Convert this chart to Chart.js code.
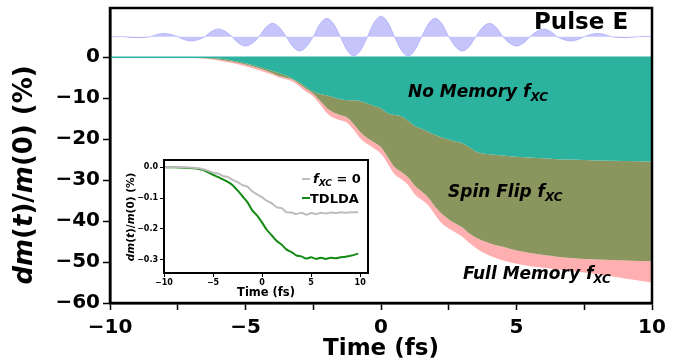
<!DOCTYPE html>
<html>
<head>
<meta charset="utf-8">
<script src="https://cdn.jsdelivr.net/npm/chart.js@4.4.1/dist/chart.umd.min.js"></script>
<style>
  body { margin: 0; background: #fff; }
  #wrap { position: relative; width: 694px; height: 363px; }
  #inset { position: absolute; left: 116px; top: 154px; }
</style>
</head>
<body>
<div id="wrap">
  <canvas id="main" width="694" height="363"></canvas>
  <canvas id="inset" width="260" height="146"></canvas>
</div>
<script>
// --- dados ---
// pulso (unidades arbitrarias, desenhado em torno de pulseBase)
const pulseBase = 5;
const tPulse = [-10, -9.75, -9.5, -9.25, -9, -8.75, -8.5, -8.25, -8, -7.75, -7.5, -7.25, -7, -6.75, -6.5, -6.25,
  -6, -5.75, -5.5, -5.25, -5, -4.75, -4.5, -4.25, -4, -3.75, -3.5, -3.25, -3, -2.75, -2.5, -2.25,
  -2, -1.75, -1.5, -1.25, -1, -0.75, -0.5, -0.25, 0, 0.25, 0.5, 0.75, 1, 1.25, 1.5, 1.75,
  2, 2.25, 2.5, 2.75, 3, 3.25, 3.5, 3.75, 4, 4.25, 4.5, 4.75, 5, 5.25, 5.5, 5.75,
  6, 6.25, 6.5, 6.75, 7, 7.25, 7.5, 7.75, 8, 8.25, 8.5, 8.75, 9, 9.25, 9.5, 9.75, 10];
const ePulse = [5.0, 5.0, 5.0, 4.82, 4.75, 4.82, 5.0, 5.56, 5.8, 5.56, 5.0, 4.26, 3.94, 4.26, 5.0, 6.31,
  6.87, 6.31, 5.0, 3.39, 2.7, 3.39, 5.0, 7.28, 8.25, 7.28, 5.0, 2.55, 1.5, 2.55, 5.0, 8.13,
  9.47, 8.13, 5.0, 1.71, 0.3, 1.71, 5.0, 8.5, 10.0, 8.5, 5.0, 1.71, 0.3, 1.71, 5.0, 8.13,
  9.47, 8.13, 5.0, 2.55, 1.5, 2.55, 5.0, 7.28, 8.25, 7.28, 5.0, 3.39, 2.7, 3.39, 5.0, 6.31,
  6.87, 6.31, 5.0, 4.26, 3.94, 4.26, 5.0, 5.56, 5.8, 5.56, 5.0, 4.82, 4.75, 4.85, 5.0, 5.08, 5.05];

// faixas: dm(t)/m(0) (%)
const tBand = [-10, -9, -8, -7, -6.5, -6, -5.5, -5, -4.5,
  -4, -3.75, -3.5, -3.25, -3, -2.75, -2.5, -2.25, -2, -1.75, -1.5, -1.25, -1, -0.75, -0.5, -0.25,
  0, 0.25, 0.5, 0.75, 1, 1.25, 1.5, 1.75, 2, 2.25, 2.5, 2.75, 3, 3.25, 3.5, 3.75, 4, 4.5, 5,
  5.5, 6, 6.5, 7, 8, 9, 10];
const noMemory = [0, 0, -0.02, -0.08, -0.15, -0.35, -0.8, -1.5, -2.4,
  -3.4, -3.9, -4.5, -5.3, -6.2, -7.4, -8.4, -9.0, -9.3, -9.8, -10.3, -10.5, -10.5, -10.7, -11.3, -11.9,
  -12.5, -13.7, -14.1, -14.4, -15.5, -16.8, -17.5, -18.2, -19.0, -19.6, -20.1, -20.6, -21.0, -21.9, -23.0, -23.5, -23.7, -24.0, -24.3,
  -24.5, -24.7, -24.9, -25.0, -25.2, -25.35, -25.5];
const spinFlip = [0, 0, -0.03, -0.12, -0.25, -0.55, -1.05, -1.8, -2.7,
  -3.9, -4.6, -5.0, -5.5, -6.6, -7.8, -8.9, -10.6, -12.4, -13.5, -14.1, -14.7, -16.4, -18.4, -19.8, -20.8,
  -22.0, -24.4, -26.8, -28.0, -29.3, -31.4, -32.8, -34.3, -36.5, -38.3, -39.6, -40.6, -41.6, -43.0, -44.0, -44.8, -45.4, -46.3, -47.2,
  -47.8, -48.3, -48.7, -49.0, -49.4, -49.6, -49.8];
const fullMemory = [0, 0, -0.05, -0.2, -0.4, -0.8, -1.4, -2.2, -3.2,
  -4.3, -5.0, -5.4, -6.0, -7.2, -8.5, -9.6, -11.5, -13.6, -14.8, -15.4, -16.0, -17.8, -19.9, -21.2, -22.3,
  -23.6, -26.0, -28.6, -29.8, -31.2, -33.5, -34.8, -36.2, -38.5, -40.6, -41.8, -42.8, -43.8, -45.3, -46.6, -47.6, -48.4, -49.6, -50.4,
  -51.0, -51.4, -51.8, -52.2, -53.0, -54.0, -55.0];

const xTicks = [-10, -7.5, -5, -2.5, 0, 2.5, 5, 7.5, 10];
const yTicks = [-60, -50, -40, -30, -20, -10, 0];

// inset: dm(t)/m(0) (%)
const tInset = [-10, -9, -8, -7, -6.5, -6, -5.5, -5, -4.5, -4, -3.5, -3, -2.5, -2, -1.5, -1, -0.5,
  0, 0.5, 1, 1.5, 2, 2.5, 3, 3.5, 4, 4.5, 5, 5.5, 6, 6.5, 7, 7.5, 8, 8.5, 9, 9.8];
const fxcZero = [0, 0, 0, -0.001, -0.003, -0.006, -0.011, -0.017, -0.02, -0.028, -0.031, -0.041, -0.048, -0.058, -0.063, -0.078, -0.088,
  -0.097, -0.109, -0.117, -0.13, -0.133, -0.146, -0.147, -0.152, -0.148, -0.154, -0.149, -0.152, -0.148, -0.15, -0.147, -0.149, -0.146, -0.148, -0.146, -0.146];
const tdlda = [0, 0, -0.001, -0.003, -0.005, -0.009, -0.016, -0.024, -0.031, -0.039, -0.047, -0.058, -0.075, -0.094, -0.113, -0.14, -0.157,
  -0.18, -0.204, -0.222, -0.24, -0.252, -0.268, -0.276, -0.287, -0.29, -0.297, -0.293, -0.298, -0.294, -0.298, -0.294, -0.296, -0.293, -0.291, -0.288, -0.281];
const insetXTicks = [-10, -5, 0, 5, 10];
const insetYTicks = [-0.3, -0.2, -0.1, 0];

// --- helpers ---
Chart.defaults.font.family = '"DejaVu Sans"';
Chart.defaults.color = '#000';
const FAM = '"DejaVu Sans"';
const pts = (xs, ys) => xs.map((x, i) => ({ x: x, y: ys[i] }));
const minus = (s) => String(s).replace('-', '\u2212');

function runsWidth(ctx, runs) {
  let w = 0;
  runs.forEach(r => { ctx.font = r.font; w += ctx.measureText(r.text).width; });
  return w;
}
function drawRuns(ctx, x, y, runs) {
  runs.forEach(r => {
    ctx.font = r.font;
    ctx.fillText(r.text, x, y + (r.dy || 0));
    x += ctx.measureText(r.text).width;
  });
}
function yTitleRuns(size) {
  const bi = `bold italic ${size}px ${FAM}`, b = `bold ${size}px ${FAM}`;
  return [{ text: 'dm', font: bi }, { text: '(', font: b }, { text: 't', font: bi }, { text: ')/', font: b },
          { text: 'm', font: bi }, { text: '(0) (%)', font: b }];
}
function fxcRuns(name, size, sub) {
  const bi = `bold italic ${size}px ${FAM}`, s = `bold italic ${sub}px ${FAM}`;
  return [{ text: name + 'f', font: bi }, { text: 'XC', font: s, dy: size * 0.25 }];
}
// sem padding extra dos rotulos
const noPad = s => { s.paddingTop = 0; s.paddingBottom = 0; s.paddingLeft = 0; s.paddingRight = 0; };

// --- grafico principal ---
const mainDecor = {
  id: 'mainDecor',
  afterDraw(chart) {
    const { ctx, chartArea: a } = chart;
    ctx.save();
    ctx.strokeStyle = '#000';
    ctx.lineWidth = 2.5;
    ctx.strokeRect(a.left, a.top, a.right - a.left, a.bottom - a.top);
    ctx.fillStyle = '#000';
    ctx.textBaseline = 'alphabetic';
    ctx.font = `bold 23px ${FAM}`;
    ctx.fillText('Pulse E', 534, 29);
    drawRuns(ctx, 408, 97, fxcRuns('No Memory ', 17, 12));
    drawRuns(ctx, 448, 197, fxcRuns('Spin Flip ', 17, 12));
    drawRuns(ctx, 463, 279, fxcRuns('Full Memory ', 17, 12));
    // titulo do eixo y
    const runs = yTitleRuns(26);
    ctx.translate(25, 175);
    ctx.rotate(-Math.PI / 2);
    ctx.textBaseline = 'middle';
    drawRuns(ctx, -runsWidth(ctx, runs) / 2, 0, runs);
    ctx.restore();
  }
};

new Chart(document.getElementById('main').getContext('2d'), {
  type: 'line',
  data: {
    datasets: [
      { data: pts(tPulse, ePulse), borderColor: 'rgba(160,160,250,0.6)', borderWidth: 1,
        backgroundColor: 'rgba(140,140,250,0.5)', fill: { value: pulseBase }, cubicInterpolationMode: 'monotone' },
      { data: pts(tBand, tBand.map(() => 0)), borderColor: '#2bb3a0', borderWidth: 1.5, fill: false },
      { data: pts(tBand, noMemory), borderWidth: 0, backgroundColor: '#2bb3a0', fill: '-1', cubicInterpolationMode: 'monotone' },
      { data: pts(tBand, spinFlip), borderWidth: 0, backgroundColor: '#8a965e', fill: '-1', cubicInterpolationMode: 'monotone' },
      { data: pts(tBand, fullMemory), borderWidth: 0, backgroundColor: '#ffafaf', fill: '-1', cubicInterpolationMode: 'monotone' }
    ]
  },
  options: {
    responsive: false,
    animation: false,
    events: [],
    layout: { padding: { left: 0, right: 42, top: 8, bottom: 0 } },
    elements: { point: { radius: 0 } },
    plugins: { legend: { display: false }, tooltip: { enabled: false } },
    scales: {
      x: {
        type: 'linear', min: -10, max: 10,
        afterBuildTicks: s => { s.ticks = xTicks.map(v => ({ value: v })); },
        afterFit: s => { s.height = 60; noPad(s); },
        ticks: { font: { size: 20, weight: 'bold' }, padding: 6, maxRotation: 0, autoSkip: false,
                 callback: v => (v % 5 === 0 ? minus(v) : '') },
        grid: { drawOnChartArea: false, drawTicks: true, tickLength: 7, tickColor: '#000', tickWidth: 1.5 },
        border: { display: true, color: '#000', width: 2.5 },
        title: { display: true, text: 'Time (fs)', font: { size: 23, weight: 'bold', lineHeight: 1.0 }, padding: { top: 0, bottom: 2 } }
      },
      y: {
        type: 'linear', min: -60, max: 12,
        afterBuildTicks: s => { s.ticks = yTicks.map(v => ({ value: v })); },
        afterFit: s => { s.width = 110; noPad(s); },
        ticks: { font: { size: 20, weight: 'bold' }, padding: 3, callback: v => minus(v) },
        grid: { drawOnChartArea: false, drawTicks: true, tickLength: 7, tickColor: '#000', tickWidth: 1.5 },
        border: { display: true, color: '#000', width: 2.5 }
      }
    }
  },
  plugins: [mainDecor]
});

// --- inset ---
const insetDecor = {
  id: 'insetDecor',
  beforeDraw(chart) {
    const { ctx, chartArea: a } = chart;
    ctx.save();
    ctx.fillStyle = '#fff';
    ctx.fillRect(a.left, a.top, a.right - a.left, a.bottom - a.top);
    ctx.restore();
  },
  afterDraw(chart) {
    const { ctx, chartArea: a } = chart;
    ctx.save();
    ctx.strokeStyle = '#000';
    ctx.lineWidth = 2;
    ctx.strokeRect(a.left, a.top, a.right - a.left, a.bottom - a.top);
    // legenda
    ctx.lineWidth = 2;
    ctx.strokeStyle = chart.data.datasets[0].borderColor;
    ctx.beginPath(); ctx.moveTo(186, 25); ctx.lineTo(194, 25); ctx.stroke();
    ctx.strokeStyle = chart.data.datasets[1].borderColor;
    ctx.beginPath(); ctx.moveTo(186, 44); ctx.lineTo(194, 44); ctx.stroke();
    ctx.fillStyle = '#000';
    ctx.textBaseline = 'alphabetic';
    drawRuns(ctx, 197, 29, fxcRuns('', 13, 9).concat([{ text: ' = 0', font: `bold 13px ${FAM}` }]));
    ctx.font = `bold 13px ${FAM}`;
    ctx.fillText('TDLDA', 194, 49);
    // titulo do eixo y
    const runs = yTitleRuns(10.5);
    ctx.translate(15, 63);
    ctx.rotate(-Math.PI / 2);
    ctx.textBaseline = 'middle';
    drawRuns(ctx, -runsWidth(ctx, runs) / 2, 0, runs);
    ctx.restore();
  }
};

new Chart(document.getElementById('inset').getContext('2d'), {
  type: 'line',
  data: {
    datasets: [
      { data: pts(tInset, fxcZero), borderColor: '#bdbdbd', borderWidth: 2, fill: false, tension: 0.3 },
      { data: pts(tInset, tdlda), borderColor: '#138a13', borderWidth: 2, fill: false, tension: 0.3 }
    ]
  },
  options: {
    responsive: false,
    animation: false,
    events: [],
    layout: { padding: { left: 0, right: 8, top: 6, bottom: 0 } },
    elements: { point: { radius: 0 } },
    plugins: { legend: { display: false }, tooltip: { enabled: false } },
    scales: {
      x: {
        type: 'linear', min: -10, max: 10.8,
        afterBuildTicks: s => { s.ticks = insetXTicks.map(v => ({ value: v })); },
        afterFit: s => { s.height = 27; noPad(s); },
        ticks: { font: { size: 8, weight: 'bold' }, padding: 1, maxRotation: 0, autoSkip: false, callback: v => minus(v) },
        grid: { drawOnChartArea: false, drawTicks: true, tickLength: 4, tickColor: '#000', tickWidth: 1 },
        border: { display: true, color: '#000', width: 2 },
        title: { display: true, text: 'Time (fs)', font: { size: 11.5, weight: 'bold', lineHeight: 1.0 }, padding: { top: 0, bottom: 1 } }
      },
      y: {
        type: 'linear', min: -0.344, max: 0.024,
        afterBuildTicks: s => { s.ticks = insetYTicks.map(v => ({ value: v })); },
        afterFit: s => { s.width = 48; noPad(s); },
        ticks: { font: { size: 8, weight: 'bold' }, padding: 2, callback: v => minus(v.toFixed(1)) },
        grid: { drawOnChartArea: false, drawTicks: true, tickLength: 4, tickColor: '#000', tickWidth: 1 },
        border: { display: true, color: '#000', width: 2 }
      }
    }
  },
  plugins: [insetDecor]
});
</script>
</body>
</html>
